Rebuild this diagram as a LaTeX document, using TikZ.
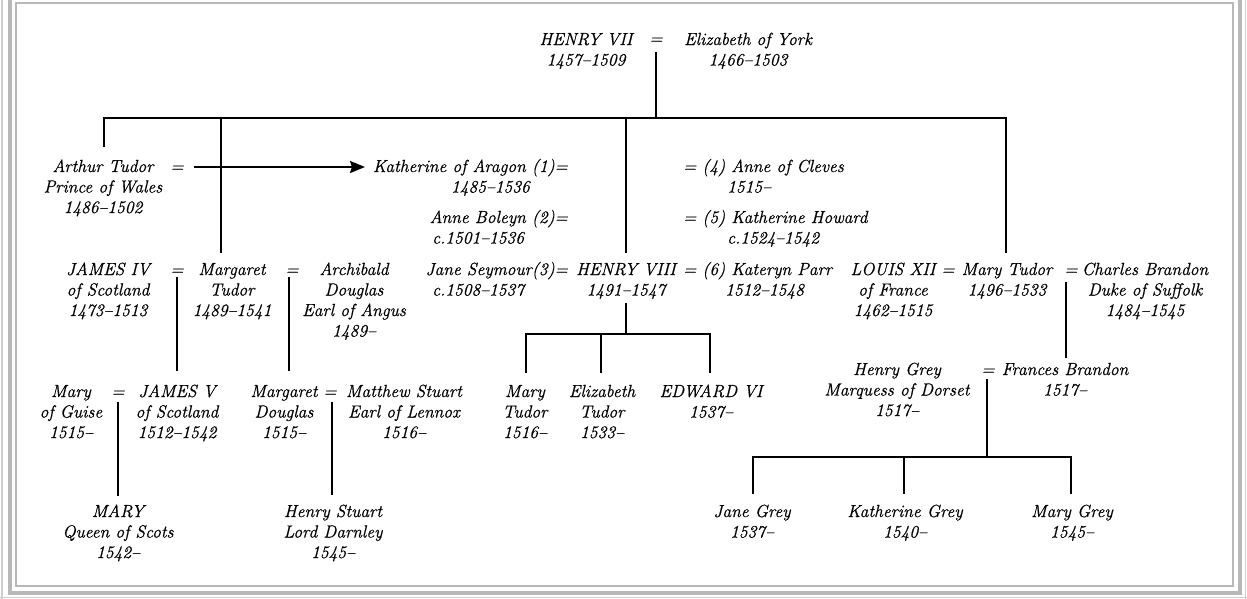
\documentclass[tikz,border=0pt]{standalone}
\usepackage{fontspec}
\setmainfont{Latin Modern Roman}[ItalicFeatures={FakeBold=0.7}]
\usetikzlibrary{arrows.meta}
\definecolor{framegray}{RGB}{184,184,184}
\definecolor{framelight}{RGB}{206,206,206}
\newcommand{\tudorfont}{\fontsize{17.5}{20.5}\selectfont\itshape}
\begin{document}
\begin{tikzpicture}[x=1pt,y=-1pt,
  per/.style={align=center,anchor=base,inner sep=0pt,font=\tudorfont},
  link/.style={line width=2pt,line cap=rect},
  frameline/.style={draw=framegray,line width=2pt}]
\useasboundingbox (0,0) rectangle (1247,598);
\clip (0,0) rectangle (1247,598);
% frame
\draw[frameline] (16,3) rectangle (1233,586);
\draw[draw=framegray,line width=4pt] (9.5,-5) -- (9.5,592.5) -- (1239.5,592.5) -- (1239.5,-5);
\draw[draw=framelight,line width=1.5pt] (2,-5) -- (2,605);
\draw[draw=framelight,line width=1.5pt] (1245.5,-5) -- (1245.5,605);
\draw[draw=framelight,line width=1.5pt] (-5,597.5) -- (1252,597.5);

% (anchor base = baseline of the LAST line of a node)
% generation 1
\node[per] (h7) at (586,65.5) {HENRY VII\\1457–1509};
\node[per] (e0) at (656,44) {=};
\node[per] (ey) at (748,65.5) {Elizabeth of York\\1466–1503};

% generation 2
\node[per] (arthur) at (103,213) {Arthur Tudor\\Prince of Wales\\1486–1502};
\node[per] (e1) at (177,172) {=};
\node[per,anchor=base east] (kat) at (568,172) {Katherine of Aragon (1)=};
\node[per,anchor=base east] (katd) at (530,192.5) {1485–1536};
\node[per,anchor=base west] (cleves) at (683,172) {= (4) Anne of Cleves};
\node[per,anchor=base west] (clevesd) at (727,192.5) {1515–};
\node[per,anchor=base east] (boleyn) at (568,223) {Anne Boleyn (2)=};
\node[per,anchor=base west] (boleynd) at (432,243.5) {c.1501–1536};
\node[per,anchor=base west] (howard) at (683,223) {= (5) Katherine Howard};
\node[per,anchor=base west] (howardd) at (727,243.5) {c.1524–1542};
\node[per,anchor=base east] (seymour) at (568,275) {Jane Seymour(3)=};
\node[per,anchor=base west] (seymourd) at (432,295.5) {c.1508–1537};
\node[per] (h8) at (626,295.5) {HENRY VIII\\1491–1547};
\node[per,anchor=base west] (parr) at (683,275) {= (6) Kateryn Parr};
\node[per,anchor=base west] (parrd) at (725,295.5) {1512–1548};

\node[per] (j4) at (108,316) {JAMES IV\\of Scotland\\1473–1513};
\node[per] (e2) at (177,275) {=};
\node[per] (mt) at (232,316) {Margaret\\Tudor\\1489–1541};
\node[per] (e3) at (292,275) {=};
\node[per] (ad) at (354,336.5) {Archibald\\Douglas\\Earl of Angus\\1489–};

\node[per] (l12) at (893,316) {LOUIS XII\\of France\\1462–1515};
\node[per] (e4) at (948,275) {=};
\node[per] (mary) at (1007,295.5) {Mary Tudor\\1496–1533};
\node[per] (e5) at (1071,275) {=};
\node[per] (cb) at (1145,316) {Charles Brandon\\Duke of Suffolk\\1484–1545};

% generation 3
\node[per] (mg) at (71,438) {Mary\\of Guise\\1515–};
\node[per] (e6) at (118,397) {=};
\node[per] (j5) at (177,438) {JAMES V\\of Scotland\\1512–1542};
\node[per] (md) at (284,438) {Margaret\\Douglas\\1515–};
\node[per] (e7) at (330,397) {=};
\node[per] (ms) at (404,438) {Matthew Stuart\\Earl of Lennox\\1516–};
\node[per] (mtu) at (525,438) {Mary\\Tudor\\1516–};
\node[per] (et) at (602,438) {Elizabeth\\Tudor\\1533–};
\node[per] (e6k) at (711,417.5) {EDWARD VI\\1537–};
\node[per] (hg) at (897,416) {Henry Grey\\Marquess of Dorset\\1517–};
\node[per] (e8) at (988,375) {=};
\node[per] (fb) at (1065,395.5) {Frances Brandon\\1517–};

% generation 4
\node[per] (mq) at (118,558) {MARY\\Queen of Scots\\1542–};
\node[per] (hs) at (333,558) {Henry Stuart\\Lord Darnley\\1545–};
\node[per] (jg) at (752,537.5) {Jane Grey\\1537–};
\node[per] (kg) at (905,537.5) {Katherine Grey\\1540–};
\node[per] (mgr) at (1072,537.5) {Mary Grey\\1545–};

% junction coordinates
\coordinate (t0) at (656,53);
\coordinate (t1) at (656,118);
\coordinate (bL) at (104,118);
\coordinate (bRt) at (1006,118);
\coordinate (bA) at (104,146);
\coordinate (bM) at (221,252);
\coordinate (bH) at (626,252);
\coordinate (bR) at (1006,252);
\coordinate (arS) at (195,167);
\coordinate (arE) at (365,167);
\coordinate (m1a) at (177,278);
\coordinate (m1b) at (177,370);
\coordinate (m2a) at (289,278);
\coordinate (m2b) at (289,370);
\coordinate (h8a) at (626,304);
\coordinate (h8b) at (626,334);
\coordinate (c1t) at (526,334);
\coordinate (c3t) at (710,334);
\coordinate (c1) at (526,372);
\coordinate (c2) at (601,372);
\coordinate (c3) at (710,372);
\coordinate (sfa) at (1066,283);
\coordinate (sfb) at (1066,357);
\coordinate (q1a) at (118,403);
\coordinate (q1b) at (118,495);
\coordinate (q2a) at (332,403);
\coordinate (q2b) at (332,494);
\coordinate (g0a) at (987,380);
\coordinate (g0b) at (987,457);
\coordinate (g1t) at (753,457);
\coordinate (g3t) at (1071,457);
\coordinate (g1) at (753,493);
\coordinate (g2) at (904,493);
\coordinate (g3) at (1071,493);

% connectors
\draw[link] (t0) -- (t1);
\draw[link] (bA) -- (bL) -- (bRt) -- (bR);
\draw[link] (bM |- t1) -- (bM);
\draw[link] (bH |- t1) -- (bH);
\draw[link,-{Stealth[length=15pt,width=12pt,inset=2pt]}] (arS) -- (arE);
\draw[link] (m1a) -- (m1b);
\draw[link] (m2a) -- (m2b);
\draw[link] (h8a) -- (h8b);
\draw[link] (c1) -- (c1t) -- (c3t) -- (c3);
\draw[link] (c2 |- h8b) -- (c2);
\draw[link] (sfa) -- (sfb);
\draw[link] (q1a) -- (q1b);
\draw[link] (q2a) -- (q2b);
\draw[link] (g0a) -- (g0b);
\draw[link] (g1) -- (g1t) -- (g3t) -- (g3);
\draw[link] (g2 |- g0b) -- (g2);
\end{tikzpicture}
\end{document}
